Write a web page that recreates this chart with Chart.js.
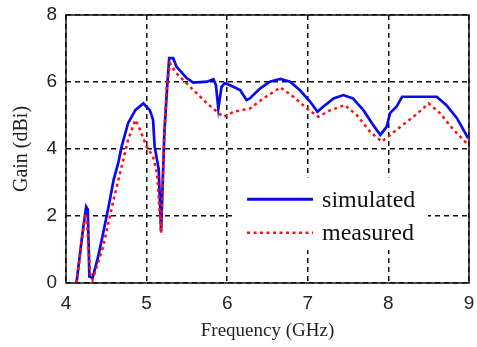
<!DOCTYPE html>
<html>
<head>
<meta charset="utf-8">
<script src="https://cdn.jsdelivr.net/npm/chart.js@4/dist/chart.umd.min.js"></script>
<style>
  html, body { margin: 0; padding: 0; background: #fff; }
  #wrap { width: 477px; height: 347px; position: relative; }
</style>
</head>
<body>
<div id="wrap"><canvas id="gainChart"></canvas></div>
<script>
// frequenze (GHz) e guadagno (dBi)
const simFreq = [4.13, 4.20, 4.25, 4.27, 4.29, 4.33, 4.40, 4.46, 4.53, 4.59,
                 4.65, 4.69, 4.77, 4.86, 4.96, 5.04, 5.08, 5.10, 5.15, 5.18,
                 5.20, 5.22, 5.25, 5.28, 5.33, 5.37, 5.50, 5.58, 5.75, 5.83,
                 5.86, 5.89, 5.93, 5.97, 6.03, 6.16, 6.24, 6.28, 6.41, 6.53,
                 6.66, 6.78, 6.90, 7.03, 7.12, 7.19, 7.32, 7.44, 7.56, 7.69,
                 7.81, 7.90, 7.98, 8.02, 8.10, 8.17, 8.60, 8.72, 8.85, 8.99];
const simGain = [0, 1.4, 2.28, 2.2, 0.19, 0.15, 0.8, 1.48, 2.3, 3.07,
                 3.6, 4.07, 4.77, 5.16, 5.36, 5.16, 4.87, 4.07, 3.4, 1.55,
                 3.0, 4.47, 5.66, 6.71, 6.71, 6.46, 6.11, 5.98, 6.01, 6.08,
                 5.91, 5.21, 5.86, 5.96, 5.91, 5.76, 5.46, 5.51, 5.81, 6.01,
                 6.09, 6.01, 5.76, 5.41, 5.11, 5.26, 5.51, 5.61, 5.51, 5.16,
                 4.72, 4.42, 4.67, 5.07, 5.26, 5.56, 5.56, 5.31, 4.92, 4.32];

const measFreq = [4.13, 4.24, 4.26, 4.30, 4.33, 4.46, 4.59, 4.69, 4.77, 4.86,
                  4.92, 5.00, 5.08, 5.13, 5.18, 5.22, 5.25, 5.29, 5.37, 5.58,
                  5.75, 5.95, 6.08, 6.28, 6.45, 6.66, 6.82, 6.99, 7.13, 7.28,
                  7.46, 7.61, 7.77, 7.92, 8.10, 8.31, 8.50, 8.64, 8.81, 8.98];
const measGain = [0, 2.08, 1.9, 0.29, 0.09, 1.08, 2.48, 3.47, 4.27, 4.87,
                  4.57, 4.07, 3.77, 3.27, 1.48, 4.47, 5.86, 6.56, 6.26, 5.76,
                  5.36, 4.96, 5.11, 5.21, 5.51, 5.84, 5.56, 5.21, 4.96, 5.16,
                  5.31, 5.01, 4.52, 4.22, 4.57, 4.96, 5.36, 5.07, 4.57, 4.15];

const xTicks = [4, 5, 6, 7, 8, 9];
const yTicks = [0, 2, 4, 6, 8];

const seriesNames = ['simulated', 'measured'];
const blue = '#0a0aee';
const red = '#ff1010';

const toPoints = (xs, ys) => xs.map((x, i) => ({ x: x, y: ys[i] }));

// cornice nera attorno all'area del grafico
const framePlugin = {
    id: 'frame',
    afterDraw(chart) {
        const a = chart.chartArea;
        const ctx = chart.ctx;
        ctx.save();
        ctx.strokeStyle = '#111';
        ctx.lineWidth = 1.5;
        ctx.strokeRect(a.left, a.top, a.right - a.left, a.bottom - a.top);
        ctx.restore();
    }
};

// legenda dentro l'area, con sfondo bianco sopra la griglia
const legendPlugin = {
    id: 'innerLegend',
    beforeDatasetsDraw(chart) {
        const xs = chart.scales.x, ys = chart.scales.y;
        const ctx = chart.ctx;
        const left = xs.getPixelForValue(6.06);
        const right = xs.getPixelForValue(8.49);
        const top = ys.getPixelForValue(3.15);
        const bottom = ys.getPixelForValue(0.98);
        ctx.save();
        ctx.fillStyle = '#fff';
        ctx.fillRect(left, top, right - left, bottom - top);
        const rows = [
            { label: seriesNames[0], color: blue, dash: [], width: 3, y: ys.getPixelForValue(2.5) },
            { label: seriesNames[1], color: red, dash: [3, 3.5], width: 2.5, y: ys.getPixelForValue(1.5) }
        ];
        ctx.font = '24px "Liberation Serif"';
        ctx.textBaseline = 'middle';
        rows.forEach(r => {
            ctx.beginPath();
            ctx.strokeStyle = r.color;
            ctx.lineWidth = r.width;
            ctx.setLineDash(r.dash);
            ctx.moveTo(left + 15, r.y);
            ctx.lineTo(left + 81, r.y);
            ctx.stroke();
            ctx.setLineDash([]);
            ctx.fillStyle = '#111';
            ctx.fillText(r.label, left + 90, r.y + 1);
        });
        ctx.restore();
    }
};

const ctx = document.getElementById('gainChart').getContext('2d');
new Chart(ctx, {
    type: 'line',
    data: {
        datasets: [{
            label: seriesNames[0],
            data: toPoints(simFreq, simGain),
            borderColor: blue,
            borderWidth: 2.7,
            pointRadius: 0,
            tension: 0,
            order: 1
        }, {
            label: seriesNames[1],
            data: toPoints(measFreq, measGain),
            borderColor: red,
            borderWidth: 2.5,
            borderDash: [3, 3.5],
            pointRadius: 0,
            tension: 0,
            order: 0
        }]
    },
    options: {
        responsive: true,
        maintainAspectRatio: false,
        animation: false,
        layout: { padding: { top: 15, right: 8, left: 0, bottom: 0 } },
        plugins: {
            legend: { display: false },
            tooltip: { enabled: false }
        },
        scales: {
            x: {
                type: 'linear',
                min: 4,
                max: 9,
                afterBuildTicks: s => { s.ticks = xTicks.map(v => ({ value: v })); },
                afterFit: s => { s.height = 64; s.paddingLeft = 0; s.paddingRight = 0; },
                grid: { color: '#111', lineWidth: 1.5, drawTicks: false },
                border: { display: false, dash: [5, 4] },
                ticks: { padding: 9, color: '#222', font: { family: 'Liberation Sans', size: 19 } },
                title: {
                    display: true,
                    text: 'Frequency (GHz)',
                    color: '#222',
                    padding: { top: 0, bottom: 5 },
                    font: { family: 'Liberation Serif', size: 19 }
                }
            },
            y: {
                min: 0,
                max: 8,
                afterBuildTicks: s => { s.ticks = yTicks.map(v => ({ value: v })); },
                afterFit: s => { s.width = 66; s.paddingTop = 0; s.paddingBottom = 0; },
                grid: { color: '#111', lineWidth: 1.5, drawTicks: false },
                border: { display: false, dash: [5, 4] },
                ticks: { padding: 9, color: '#222', font: { family: 'Liberation Sans', size: 19 } },
                title: {
                    display: true,
                    text: 'Gain (dBi)',
                    color: '#222',
                    padding: { top: 10, bottom: 0 },
                    font: { family: 'Liberation Serif', size: 20 }
                }
            }
        }
    },
    plugins: [legendPlugin, framePlugin]
});
</script>
</body>
</html>
